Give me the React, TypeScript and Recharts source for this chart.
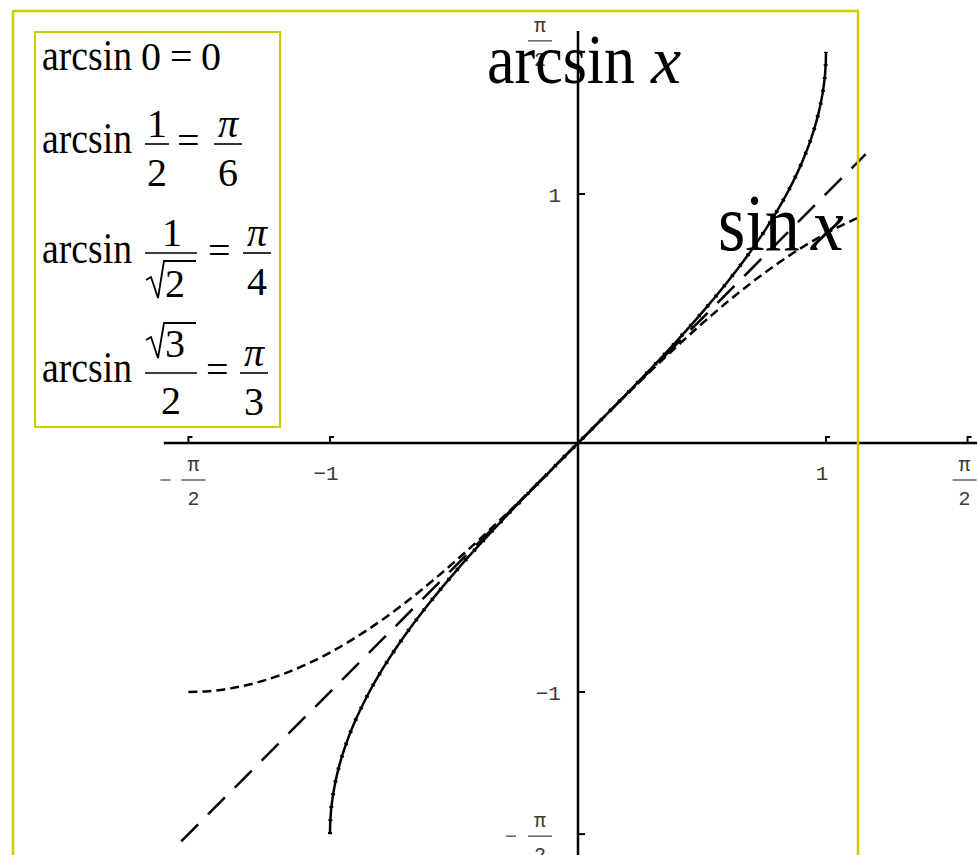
import { Line, LineChart, ReferenceDot, ReferenceLine, XAxis, YAxis } from "recharts";

const W = 977;
const H = 855;

// arcsin x on [-1, 1]
const arcsinX = [
  -1, -0.9995, -0.998, -0.99, -0.98, -0.96, -0.94, -0.92, -0.9, -0.85, -0.8, -0.75, -0.7, -0.6, -0.5, -0.4,
  -0.3, -0.2, -0.1, 0, 0.1, 0.2, 0.3, 0.4, 0.5, 0.6, 0.7, 0.75, 0.8, 0.85, 0.9, 0.92, 0.94, 0.96, 0.98, 0.99,
  0.998, 0.9995, 1,
];
const arcsinY = [
  -1.5708, -1.5392, -1.5075, -1.4293, -1.3705, -1.287, -1.2226, -1.1681, -1.1198, -1.016, -0.9273, -0.8481,
  -0.7754, -0.6435, -0.5236, -0.4115, -0.3047, -0.2014, -0.1002, 0, 0.1002, 0.2014, 0.3047, 0.4115, 0.5236,
  0.6435, 0.7754, 0.8481, 0.9273, 1.016, 1.1198, 1.1681, 1.2226, 1.287, 1.3705, 1.4293, 1.5075, 1.5392, 1.5708,
];

// sin x from -pi/2 up to the frame edge
const sinX = [
  -1.5708, -1.5, -1.4, -1.3, -1.2, -1.1, -1, -0.9, -0.8, -0.7, -0.6, -0.5, -0.4, -0.3, -0.2, -0.1, 0, 0.1, 0.2,
  0.3, 0.4, 0.5, 0.6, 0.7, 0.8, 0.9, 1, 1.1, 1.14,
];
const sinY = [
  -1, -0.9975, -0.9854, -0.9636, -0.932, -0.8912, -0.8415, -0.7833, -0.7174, -0.6442, -0.5646, -0.4794,
  -0.3894, -0.2955, -0.1987, -0.0998, 0, 0.0998, 0.1987, 0.2955, 0.3894, 0.4794, 0.5646, 0.6442, 0.7174,
  0.7833, 0.8415, 0.8912, 0.9086,
];

// y = x
const diagX = [-1.6, 1.16];
const diagY = [-1.6, 1.16];

const xTicks = [-1.5708, -1, 1, 1.5708];
const xTickLabels = ["-π/2", "-1", "1", "π/2"];
const yTicks = [1.5708, 1, -1, -1.5708];
const yTickLabels = ["π/2", "1", "-1", "-π/2"];

const MONO = "'Liberation Mono', 'DejaVu Sans Mono', monospace";
const SERIF = "'Liberation Serif', 'DejaVu Serif', serif";
const LABEL = "#3a3a3a";
const FRAME = "#cccc00";

const toPoints = (xs: number[], ys: number[]) => xs.map((x, i) => ({ x, y: ys[i] }));

// pi/2 style tick label: optional minus, pi over a bar, 2 below
function PiHalf({ cx, bar, negative, minusX }: { cx: number; bar: number; negative: boolean; minusX: number }) {
  return (
    <g fill={LABEL} fontFamily={MONO} fontSize={20}>
      {negative && (
        <line x1={minusX - 5} x2={minusX + 5} y1={bar} y2={bar} stroke={LABEL} strokeWidth={1.2} />
      )}
      <text x={cx} y={bar - 9} textAnchor="middle">
        π
      </text>
      <line x1={cx - 12} x2={cx + 12} y1={bar} y2={bar} stroke={LABEL} strokeWidth={1.2} />
      <text x={cx} y={bar + 25} textAnchor="middle">
        2
      </text>
    </g>
  );
}

function XTick(props: any) {
  const { cx, cy, label } = props;
  const isPi = label.includes("π");
  const negative = label.startsWith("-");
  return (
    <g>
      <path d={`M${cx},${cy} V${cy - 6} H${cx + 4}`} stroke="#000" strokeWidth={2} fill="none" />
      {isPi ? (
        <PiHalf cx={negative ? cx + 5 : cx - 3} bar={cy + 37} negative={negative} minusX={cx - 23} />
      ) : (
        <text x={cx - 4} y={cy + 37} textAnchor="middle" fontFamily={MONO} fontSize={21} fill={LABEL}>
          {label.replace("-", "−")}
        </text>
      )}
    </g>
  );
}

function YTick(props: any) {
  const { cx, cy, label } = props;
  const isPi = label.includes("π");
  const negative = label.startsWith("-");
  return (
    <g>
      <path d={`M${cx},${cy} H${cx + 7}`} stroke="#000" strokeWidth={2} fill="none" />
      {isPi ? (
        <PiHalf cx={cx - 38} bar={negative ? cy + 2 : cy - 11} negative={negative} minusX={cx - 67} />
      ) : (
        <text x={cx - 17} y={cy + 8} textAnchor="end" fontFamily={MONO} fontSize={21} fill={LABEL}>
          {label.replace("-", "−")}
        </text>
      )}
    </g>
  );
}

function Frac({
  cx,
  bar,
  half,
  num,
  den,
  numItalic,
}: {
  cx: number;
  bar: number;
  half: number;
  num: string;
  den: string;
  numItalic?: boolean;
}) {
  return (
    <g fontFamily={SERIF} fontSize={40} fill="#000">
      <text x={cx} y={bar - 7} textAnchor="middle" fontStyle={numItalic ? "italic" : "normal"}>
        {num}
      </text>
      <line x1={cx - half} x2={cx + half} y1={bar} y2={bar} stroke="#000" strokeWidth={1.6} />
      <text x={cx} y={bar + 42} textAnchor="middle">
        {den}
      </text>
    </g>
  );
}

function Radical({ x, top, base, digit }: { x: number; top: number; base: number; digit: string }) {
  return (
    <g>
      <path
        d={`M${x},${base - 17} L${x + 5},${base - 20} L${x + 12},${base + 1} L${x + 18},${top} H${x + 50}`}
        stroke="#000"
        strokeWidth={1.8}
        fill="none"
      />
      <text x={x + 19} y={base} fontFamily={SERIF} fontSize={40} fill="#000">
        {digit}
      </text>
    </g>
  );
}

// "arcsin" stretched to the width it takes in each legend row
function ArcsinWord({ y }: { y: number }) {
  return (
    <text x={42} y={y} fontFamily={SERIF} fontSize={44} fill="#000" textLength={90} lengthAdjust="spacingAndGlyphs">
      arcsin
    </text>
  );
}

function Legend() {
  const t = { fontFamily: SERIF, fontSize: 40, fill: "#000" };
  return (
    <g>
      <rect x={35} y={32} width={245} height={395} fill="none" stroke={FRAME} strokeWidth={2} />
      {/* arcsin 0 = 0 */}
      <ArcsinWord y={70} />
      <text x={141} y={70} {...t}>
        0
      </text>
      <text x={170} y={70} {...t}>
        =
      </text>
      <text x={201} y={70} {...t}>
        0
      </text>

      {/* arcsin 1/2 = pi/6 */}
      <ArcsinWord y={153} />
      <Frac cx={157} bar={144} half={12} num="1" den="2" />
      <text x={177} y={154} {...t}>
        =
      </text>
      <Frac cx={228} bar={144} half={14} num="π" den="6" numItalic />

      {/* arcsin 1/sqrt2 = pi/4 */}
      <ArcsinWord y={263} />
      <text x={172} y={246} textAnchor="middle" fontFamily={SERIF} fontSize={40}>
        1
      </text>
      <line x1={145} x2={197} y1={253} y2={253} stroke="#000" strokeWidth={1.6} />
      <Radical x={146} top={261} base={297} digit="2" />
      <text x={208} y={264} {...t}>
        =
      </text>
      <Frac cx={257} bar={253} half={14} num="π" den="4" numItalic />

      {/* arcsin sqrt3/2 = pi/3 */}
      <ArcsinWord y={382} />
      <Radical x={146} top={323} base={357} digit="3" />
      <line x1={145} x2={197} y1={373} y2={373} stroke="#000" strokeWidth={1.6} />
      <text x={171} y={414} textAnchor="middle" fontFamily={SERIF} fontSize={40}>
        2
      </text>
      <text x={206} y={383} {...t}>
        =
      </text>
      <Frac cx={254} bar={373} half={14} num="π" den="3" numItalic />
    </g>
  );
}

const noDot = () => null;

export default function App() {
  const arcsinData = toPoints(arcsinX, arcsinY);
  const sinData = toPoints(sinX, sinY);
  const diagData = toPoints(diagX, diagY);

  return (
    <div style={{ position: "absolute", left: 0, top: 0, width: W, height: H, overflow: "hidden", background: "#fff" }}>
      <LineChart width={W} height={H} margin={{ top: 0, right: 0, bottom: 0, left: 0 }}>
        <XAxis dataKey="x" type="number" domain={[-2.3306, 1.6089]} allowDataOverflow hide />
        <YAxis dataKey="y" type="number" domain={[-1.6546, 1.7791]} allowDataOverflow hide />

        <ReferenceLine
          segment={[
            { x: -1.67, y: 0 },
            { x: 1.6089, y: 0 },
          ]}
          stroke="#000"
          strokeWidth={2.5}
          ifOverflow="visible"
        />
        <ReferenceLine
          segment={[
            { x: 0, y: 1.655 },
            { x: 0, y: -1.6546 },
          ]}
          stroke="#000"
          strokeWidth={2.5}
          ifOverflow="visible"
        />

        {xTicks.map((v, i) => (
          <ReferenceDot
            key={`x${i}`}
            x={v}
            y={0}
            r={0}
            ifOverflow="visible"
            shape={(p: any) => <XTick {...p} label={xTickLabels[i]} />}
          />
        ))}
        {yTicks.map((v, i) => (
          <ReferenceDot
            key={`y${i}`}
            x={0}
            y={v}
            r={0}
            ifOverflow="visible"
            shape={(p: any) => <YTick {...p} label={yTickLabels[i]} />}
          />
        ))}

        <Line
          data={diagData}
          dataKey="y"
          type="linear"
          stroke="#000"
          strokeWidth={2.5}
          strokeDasharray="24 14"
          dot={noDot}
          activeDot={false}
          isAnimationActive={false}
        />
        <Line
          data={sinData}
          dataKey="y"
          type="monotone"
          stroke="#000"
          strokeWidth={2.5}
          strokeDasharray="9 5"
          dot={noDot}
          activeDot={false}
          isAnimationActive={false}
        />
        <Line
          data={arcsinData}
          dataKey="y"
          type="monotone"
          stroke="#000"
          strokeWidth={2.5}
          dot={noDot}
          activeDot={false}
          isAnimationActive={false}
        />
        <Line
          data={arcsinData}
          dataKey="y"
          type="monotone"
          stroke="#000"
          strokeWidth={4}
          strokeDasharray="2 11"
          dot={noDot}
          activeDot={false}
          isAnimationActive={false}
        />
      </LineChart>

      <svg width={W} height={H} style={{ position: "absolute", left: 0, top: 0, pointerEvents: "none" }}>
        <rect x={13} y={11} width={845} height={900} fill="none" stroke={FRAME} strokeWidth={2.5} />
        <Legend />
        <text
          x={487}
          y={83}
          fontFamily={SERIF}
          fontSize={70}
          fill="#000"
          textLength={148}
          lengthAdjust="spacingAndGlyphs"
        >
          arcsin
        </text>
        <text x={651} y={83} fontFamily={SERIF} fontSize={68} fontStyle="italic" fill="#000">
          x
        </text>
        <text
          x={718}
          y={250}
          fontFamily={SERIF}
          fontSize={80}
          fill="#000"
          textLength={82}
          lengthAdjust="spacingAndGlyphs"
        >
          sin
        </text>
        <text x={811} y={250} fontFamily={SERIF} fontSize={74} fontStyle="italic" fill="#000">
          x
        </text>
      </svg>
    </div>
  );
}
